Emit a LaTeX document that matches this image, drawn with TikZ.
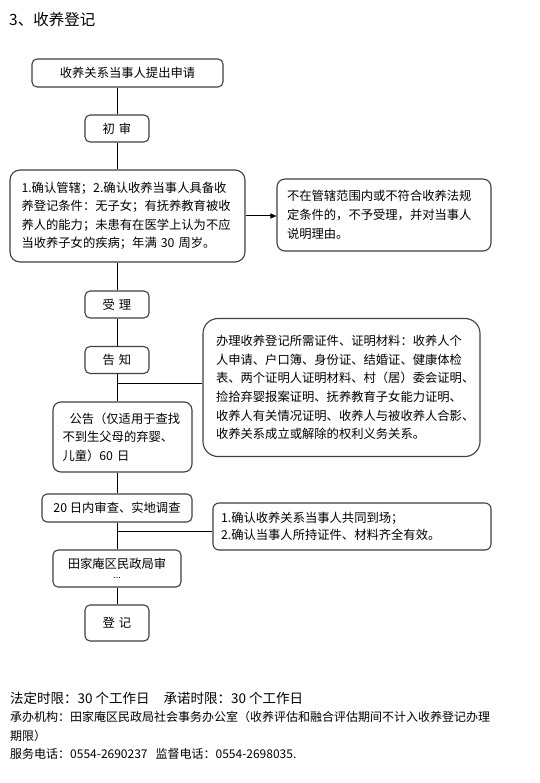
\documentclass[tikz,border=0pt]{standalone}
\usepackage{fontspec}
\setmainfont{Noto Sans CJK SC}
\usetikzlibrary{arrows.meta}
\begin{document}
\begin{tikzpicture}[x=1pt,y=-1pt,
  box/.style={draw=black!75, line width=1.1pt, rounded corners=5pt, inner sep=0pt,
    font=\fontsize{12.3}{18.5}\selectfont},
  sbox/.style={box, minimum width=64pt, minimum height=27pt},
  conn/.style={line width=1pt, black},
  plain/.style={anchor=west, inner sep=0pt}]
\fill[white] (0,0) rectangle (539,783);
\useasboundingbox (0,0) rectangle (539,783);

\node[plain, font=\fontsize{15.5}{18}\selectfont] (title) at (9,20) {3、收养登记};

\node[box, minimum width=191pt, minimum height=28pt] (apply) at (127.5,73) {收养关系当事人提出申请};
\node[sbox] (chu) at (117,128.5) {初\hspace{4pt}审};
\node[box, rounded corners=10pt, text width=212pt, inner xsep=11.5pt, minimum height=92pt, align=left] (cond) at (127.5,216)
  {1.确认管辖；2.确认收养当事人具备收\\养登记条件：无子女；有抚养教育被收\\养人的能力；未患有在医学上认为不应\\当收养子女的疾病；年满 30 周岁。};
\node[box, rounded corners=8pt, text width=194pt, inner xsep=10pt, minimum height=72pt, align=left,
  font=\fontsize{12.3}{19}\selectfont] (reject) at (384,215)
  {不在管辖范围内或不符合收养法规\\定条件的，不予受理，并对当事人\\说明理由。};
\node[sbox] (shou) at (117,304.5) {受\hspace{4pt}理};
\node[sbox] (gao) at (117,360) {告\hspace{4pt}知};
\node[box, rounded corners=15pt, text width=251pt, inner xsep=13pt, minimum height=138pt, align=left,
  font=\fontsize{12.3}{18.6}\selectfont] (banli) at (341.5,387.5)
  {办理收养登记所需证件、证明材料：收养人个\\人申请、户口簿、身份证、结婚证、健康体检\\表、两个证明人证明材料、村（居）委会证明、\\捡拾弃婴报案证明、抚养教育子女能力证明、\\收养人有关情况证明、收养人与被收养人合影、\\收养关系成立或解除的权利义务关系。};
\node[box, rounded corners=8pt, text width=120pt, inner xsep=9.5pt, minimum height=70pt, align=left] (notice) at (122.5,437)
  {\hspace{7pt}公告（仅适用于查找\\不到生父母的弃婴、\\儿童）60 日};
\node[box, minimum width=150pt, minimum height=28pt] (review) at (117,508) {20 日内审查、实地调查};
\node[box, rounded corners=6pt, text width=262pt, inner xsep=8pt, minimum height=47pt, align=left,
  font=\fontsize{12.3}{17}\selectfont] (check) at (352,526.5)
  {1.确认收养关系当事人共同到场；\\2.确认当事人所持证件、材料齐全有效。};
\node[box, minimum width=128pt, minimum height=37pt, align=center] (tj) at (117,568.5)
  {田家庵区民政局审\\[-9pt]{\fontsize{9}{9}\selectfont ...}};
\node[sbox, minimum height=36pt] (deng) at (117,623) {登\hspace{4pt}记};

\draw[conn] (chu.north |- apply.south) -- (chu.north);
\draw[conn] (chu.south) -- (chu.south |- cond.north);
\draw[conn, -{Triangle[length=6pt,width=5pt]}] (cond.east) -- (cond.east -| reject.west);
\draw[conn] (chu.south |- cond.south) -- (shou.north);
\draw[conn] (shou.south) -- (gao.north);
\draw[conn] (gao.south) -- (gao.south |- notice.north);
\coordinate (j1) at (117,383);
\draw[conn] (j1) -- (j1 -| banli.west);
\draw[conn] (gao.south |- notice.south) -- (review.north);
\draw[conn] (review.south) -- (tj.north);
\coordinate (j2) at (117,531);
\draw[conn] (j2) -- (j2 -| check.west);
\draw[conn] (tj.south) -- (deng.north);

\node[plain, font=\fontsize{13.5}{16}\selectfont] (f1) at (10,698)
  {法定时限：30 个工作日\hspace{14pt}承诺时限：30 个工作日};
\node[plain, font=\fontsize{12}{19}\selectfont, align=left] (f2) at (10,726.5)
  {承办机构：田家庵区民政局社会事务办公室（收养评估和融合评估期间不计入收养登记办理\\期限）};
\node[plain, font=\fontsize{12}{16}\selectfont] (f3) at (10,754)
  {服务电话：0554-2690237\hspace{8pt}监督电话：0554-2698035.};
\end{tikzpicture}
\end{document}
